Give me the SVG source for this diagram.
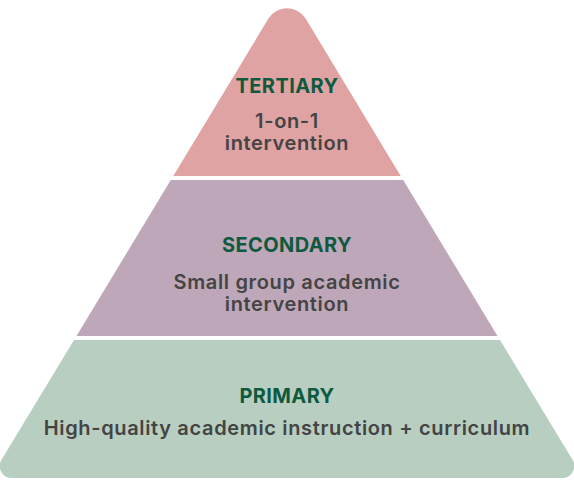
<svg xmlns="http://www.w3.org/2000/svg" width="574" height="481" viewBox="0 0 574 481">
<style>
.title{font-family:Inter,"Open Sans","Liberation Sans",sans-serif;font-weight:700;fill:#0f5a3f;text-anchor:middle;font-size:20px;letter-spacing:0.4px}
.body{font-family:Inter,"Open Sans","Liberation Sans",sans-serif;font-weight:600;fill:#444444;text-anchor:middle;font-size:20px;letter-spacing:0.65px}
</style>
<rect width="574" height="481" fill="#ffffff"/>
<g id="tertiary">
<path d="M173.3,176 L268.1,19.1 A22 22 0 0 1 305.9,19.1 L400.7,176 Z" fill="#e0a3a3"/>
<text class="title" x="287" y="93">TERTIARY</text>
<text class="body" x="287" y="128">1-on-1</text>
<text class="body" x="287" y="150">intervention</text>
</g>
<g id="secondary">
<path d="M170.8,180 L403.2,180 L497.5,336 L76.5,336 Z" fill="#bfa7ba"/>
<text class="title" x="287" y="252">SECONDARY</text>
<text class="body" x="287" y="289">Small group academic</text>
<text class="body" x="287" y="311">intervention</text>
</g>
<g id="primary">
<path d="M74,340 L500,340 L572.5,459.8 A12 12 0 0 1 562.2,478 L11.8,478 A12 12 0 0 1 1.5,459.8 Z" fill="#b7cec1"/>
<text class="title" x="287" y="403">PRIMARY</text>
<text class="body" x="287" y="435">High-quality academic instruction + curriculum</text>
</g>
<g id="connectors"></g>
</svg>
